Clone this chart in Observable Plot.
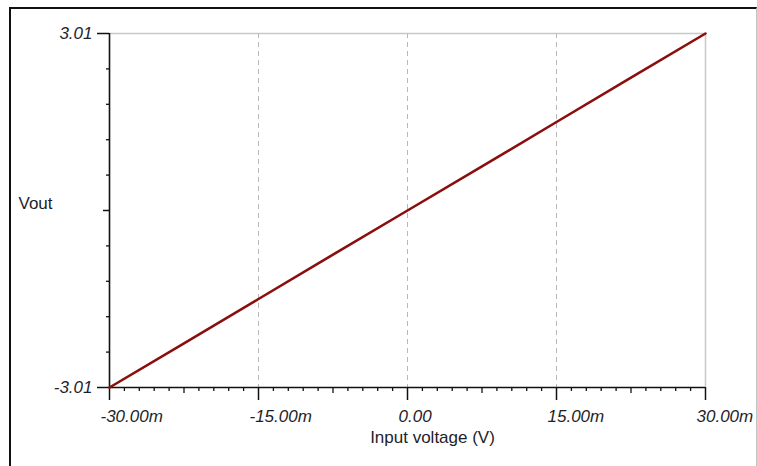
<!DOCTYPE html>
<html>
<head>
<meta charset="utf-8">
<script src="https://cdn.jsdelivr.net/npm/d3@7"></script>
<script src="https://cdn.jsdelivr.net/npm/@observablehq/plot@0.6"></script>
<style>
  html, body { margin: 0; padding: 0; background: #fff; }
  #wrap { position: relative; width: 757px; height: 466px; overflow: hidden; }
  #frame { position: absolute; left: 9px; top: 7px; width: 745px; height: 480px;
           border-left: 2px solid #111; border-top: 2px solid #111; border-right: 1px solid #c4c4c4;
           pointer-events: none; }
  svg { font-family: "Liberation Sans", Arial, sans-serif; }
</style>
</head>
<body>
<div id="wrap"><div id="frame"></div></div>
<script>
// Input voltage in mV, output voltage in V
const inputMv = [-30, -22.5, -15, -7.5, 0, 7.5, 15, 22.5, 30];
const vout    = [-3.01, -2.26, -1.505, -0.75, 0, 0.75, 1.505, 2.26, 3.01];

const xMajorTicks = [-30, -15, 0, 15, 30];
const xTickLabels = ["-30.00m", "-15.00m", "0.00", "15.00m", "30.00m"];
const xMidTicks = [-22.5, -7.5, 7.5, 22.5];
const xMinorTicks = [-28.5,-27,-25.5,-24,-21,-19.5,-18,-16.5,-13.5,-12,-10.5,-9,-6,-4.5,-3,-1.5,
                     1.5,3,4.5,6,9,10.5,12,13.5,16.5,18,19.5,21,24,25.5,27,28.5];
const xGrid = [-15, 0, 15];

const yMajorTicks = [-3.01, 3.01];
const yTickLabels = ["-3.01", "3.01"];
const yMidTicks = [0];
const yMinorTicks = [-2.408, -1.806, -1.204, -0.602, 0.602, 1.204, 1.806, 2.408];

const data = inputMv.map((x, i) => ({x, y: vout[i]}));
const font = "'Liberation Sans', Arial, sans-serif";
const ink = "#1e1e2a";

const chart = Plot.plot({
  width: 757,
  height: 466,
  marginLeft: 109,
  marginRight: 52,
  marginTop: 33,
  marginBottom: 79,
  x: {domain: [-30, 30]},
  y: {domain: [-3.01, 3.01]},
  style: {fontFamily: font, background: "transparent"},
  marks: [
    Plot.ruleX(xGrid, {stroke: "#b8b8b8", strokeDasharray: "5,4", strokeWidth: 1}),
    Plot.ruleY([3.01], {stroke: "#c8c8c8", strokeWidth: 1.5}),
    Plot.ruleX([30], {stroke: "#c8c8c8", strokeWidth: 1.5}),
    Plot.axisX(xMinorTicks, {tickSize: 4, tickFormat: () => "", label: null, stroke: "#111", strokeWidth: 1.3}),
    Plot.axisX(xMidTicks, {tickSize: 6, tickFormat: () => "", label: null, stroke: "#111", strokeWidth: 1.3}),
    Plot.axisX(xMajorTicks, {tickSize: 13, tickFormat: () => "", label: null, stroke: "#111", strokeWidth: 1.5}),
    Plot.axisY(yMinorTicks, {tickSize: 3, tickFormat: () => "", label: null, stroke: "#111", strokeWidth: 1.3}),
    Plot.axisY(yMidTicks, {tickSize: 6, tickFormat: () => "", label: null, stroke: "#111", strokeWidth: 1.5}),
    Plot.axisY(yMajorTicks, {tickSize: 12, tickFormat: () => "", label: null, stroke: "#111", strokeWidth: 1.5}),
    Plot.ruleY([-3.01], {stroke: "#111", strokeWidth: 1.6}),
    Plot.ruleX([-30], {stroke: "#111", strokeWidth: 1.6}),
    Plot.line(data, {x: "x", y: "y", stroke: "#8b0e0e", strokeWidth: 2.6}),
    Plot.text(xMajorTicks, {x: d => d, y: -3.01, text: (d, i) => xTickLabels[i], textAnchor: "start",
      dx: -9, dy: 29, fontSize: 17, fontStyle: "italic", fill: ink}),
    Plot.text(yMajorTicks, {x: -30, y: d => d, text: (d, i) => yTickLabels[i], textAnchor: "end",
      dx: -17, dy: 0, fontSize: 17, fontStyle: "italic", fill: ink}),
    Plot.text(["Vout"], {frameAnchor: "left", textAnchor: "start", dx: -91, dy: -7, fontSize: 17, fill: ink}),
    Plot.text(["Input voltage (V)"], {frameAnchor: "bottom", dx: 25, dy: 55, fontSize: 17, fill: ink})
  ]
});
document.getElementById("wrap").prepend(chart);
</script>
</body>
</html>
